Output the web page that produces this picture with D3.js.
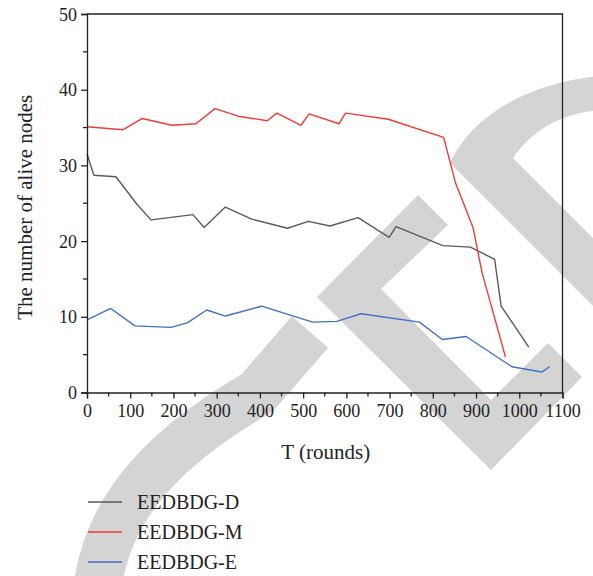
<!DOCTYPE html>
<html>
<head>
<meta charset="utf-8">
<script src="https://cdn.jsdelivr.net/npm/d3@7"></script>
<style>
  body { margin: 0; background: #fff; }
  svg text { font-family: 'Liberation Serif', 'DejaVu Serif', serif; fill: #222; }
</style>
</head>
<body>
<svg id="canvas" width="593" height="576"></svg>
<script>
// series
let roundsD = [0, 16, 67, 115, 148, 245, 271, 320, 381, 464, 512, 562, 627, 699, 715, 823, 887, 943, 958, 1022]
let aliveD = [31.5, 28.7, 28.5, 24.9, 22.8, 23.5, 21.8, 24.5, 22.9, 21.7, 22.6, 22.0, 23.1, 20.5, 21.9, 19.4, 19.2, 17.6, 11.4, 6.0]

let roundsM = [0, 83, 128, 196, 252, 296, 350, 417, 439, 495, 514, 583, 598, 697, 825, 853, 893, 914, 968]
let aliveM = [35.1, 34.7, 36.2, 35.3, 35.5, 37.5, 36.5, 35.9, 36.9, 35.3, 36.8, 35.5, 36.9, 36.1, 33.7, 27.6, 21.8, 15.8, 4.7]

let roundsE = [0, 55, 111, 194, 232, 277, 320, 404, 522, 578, 634, 769, 822, 877, 983, 1052, 1070]
let aliveE = [9.6, 11.1, 8.8, 8.6, 9.2, 10.9, 10.1, 11.4, 9.3, 9.4, 10.4, 9.3, 7.0, 7.4, 3.4, 2.7, 3.4]

let seriesNames = ['EEDBDG-D', 'EEDBDG-M', 'EEDBDG-E']
let seriesColors = ['#5a5a5a', '#ee3b3b', '#4470c2']

let xTicks = [0, 100, 200, 300, 400, 500, 600, 700, 800, 900, 1000, 1100]
let yTicks = [0, 10, 20, 30, 40, 50]

let plotLeft = 87
let plotRight = 562.5
let plotTop = 14
let plotBottom = 392.5

let canvas = d3.select('#canvas')

let xScale = d3.scaleLinear().domain([0, 1100]).range([plotLeft, plotRight])
let yScale = d3.scaleLinear().domain([0, 50]).range([plotBottom, plotTop])

// light grey watermark behind the chart
let drawWatermark = () => {
    let g = canvas.append('g').attr('fill', '#d4d4d4').attr('stroke', 'none')
    g.append('path')
     .attr('d', 'M600,313 L450,163 C470,120 520,84 600,76 L600,110 C562,113 532,130 513,158 L600,245 Z')
    g.append('path')
     .attr('d', 'M317,297 L418,195 L448,225 L381,289 L491,400 L548,343 L582,377 L491,470 Z')
    g.append('path')
     .attr('fill', 'none')
     .attr('stroke', '#d4d4d4')
     .attr('stroke-width', 48)
     .attr('d', 'M96,600 C102,520 150,455 257,393 L310,332')
}

let drawAxes = () => {
    let yAxis = d3.axisLeft(yScale).tickValues(yTicks).tickSize(6).tickPadding(4).tickFormat(d3.format('d'))
    let xAxis = d3.axisBottom(xScale).tickValues(xTicks).tickSize(6).tickPadding(6).tickFormat(d3.format('d'))

    let gy = canvas.append('g').attr('transform', 'translate(' + plotLeft + ',0)').call(yAxis)
    let gx = canvas.append('g').attr('transform', 'translate(0,' + plotBottom + ')').call(xAxis)

    // minor ticks
    gy.selectAll('.minor')
      .data(d3.range(5, 50, 10))
      .enter()
      .append('line')
      .attr('x1', -4).attr('x2', 0)
      .attr('y1', (d) => yScale(d)).attr('y2', (d) => yScale(d))
    gx.selectAll('.minor')
      .data(d3.range(50, 1100, 100))
      .enter()
      .append('line')
      .attr('y1', 0).attr('y2', 4)
      .attr('x1', (d) => xScale(d)).attr('x2', (d) => xScale(d))

    for (let g of [gy, gx]) {
        g.selectAll('line').attr('stroke', '#222').attr('stroke-width', 1.3)
        g.select('.domain').attr('stroke', '#222').attr('stroke-width', 1.3)
        g.selectAll('text').style('font-size', '18px').attr('fill', '#222')
    }
    gy.selectAll('text').attr('dy', '0.34em')

    // frame top + right
    canvas.append('path')
          .attr('d', 'M' + plotLeft + ',' + plotTop + 'H' + plotRight + 'V' + plotBottom)
          .attr('fill', 'none')
          .attr('stroke', '#222')
          .attr('stroke-width', 1.3)

    canvas.append('text')
          .attr('x', (plotLeft + plotRight) / 2 + 1)
          .attr('y', 459)
          .attr('text-anchor', 'middle')
          .style('font-size', '21px')
          .text('T (rounds)')

    canvas.append('text')
          .attr('transform', 'translate(32,' + ((plotTop + plotBottom) / 2 + 4) + ') rotate(-90)')
          .attr('text-anchor', 'middle')
          .style('font-size', '21px')
          .text('The number of alive nodes')
}

let drawLines = () => {
    let xs = [roundsD, roundsM, roundsE]
    let ys = [aliveD, aliveM, aliveE]
    let line = d3.line()
                 .x((d) => xScale(d[0]))
                 .y((d) => yScale(d[1]))
    xs.forEach((rounds, i) => {
        let pts = rounds.map((r, j) => [r, ys[i][j]])
        canvas.append('path')
              .datum(pts)
              .attr('d', line)
              .attr('fill', 'none')
              .attr('stroke', seriesColors[i])
              .attr('stroke-width', 1.4)
              .attr('stroke-linejoin', 'round')
    })
}

let drawLegend = () => {
    let legend = canvas.append('g')
    let rows = legend.selectAll('g')
                     .data(seriesNames)
                     .enter()
                     .append('g')
                     .attr('transform', (d, i) => 'translate(0,' + (502 + i * 30) + ')')
    rows.append('line')
        .attr('x1', 88).attr('x2', 122)
        .attr('stroke', (d, i) => seriesColors[i])
        .attr('stroke-width', 1.4)
    rows.append('text')
        .attr('x', 137)
        .attr('dy', '0.35em')
        .style('font-size', '20px')
        .text((d) => d)
}

drawWatermark()
drawLines()
drawAxes()
drawLegend()
</script>
</body>
</html>
